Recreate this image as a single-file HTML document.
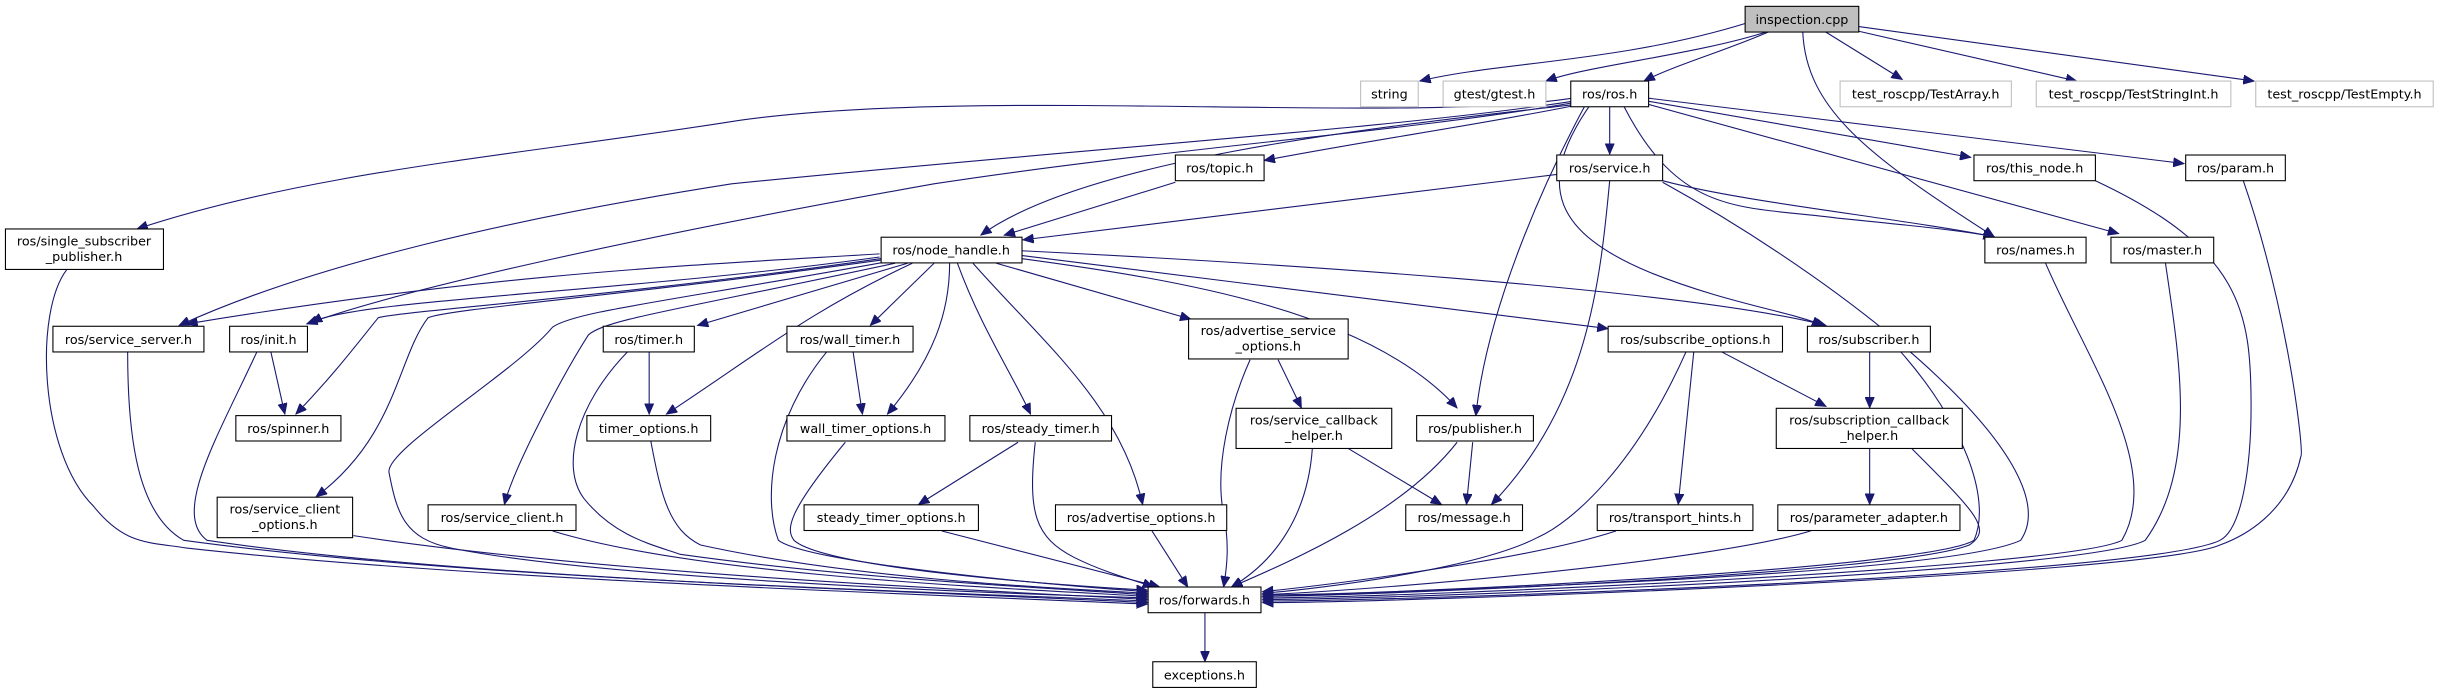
<!DOCTYPE html>
<html><head><meta charset="utf-8"><style>
html,body{margin:0;padding:0;background:#fff;}
svg{display:block;}
text{font-family:"DejaVu Sans","Liberation Sans",sans-serif;font-size:8.2px;fill:#000;text-anchor:middle;}
.e{fill:none;stroke:#191970;stroke-width:0.7;}
.n{fill:#fff;stroke:#000;stroke-width:0.7;}
.g{fill:#fff;stroke:#bfbfbf;stroke-width:0.7;}
</style></head><body>
<svg width="2441" height="693" viewBox="0 0 1568 445" xmlns="http://www.w3.org/2000/svg">
<defs><marker id="a" markerUnits="userSpaceOnUse" markerWidth="8" markerHeight="6" refX="7" refY="3" orient="auto"><path d="M0,0 L7,3 L0,6 z" fill="#191970" stroke="#191970" stroke-width="0.5"/></marker></defs>
<g marker-end="url(#a)">
<!-- inspection.cpp -->
<path class="e" d="M1121,15 C1040,40 960,40 912,52"/>
<path class="e" d="M1136,20 C1090,35 1020,42 993,52"/>
<path class="e" d="M1137,20 C1110,32 1075,42 1056,52"/>
<path class="e" d="M1158,20 C1160,70 1200,100 1281,152"/>
<path class="e" d="M1172,20 L1222,51"/>
<path class="e" d="M1194,20 L1334,52"/>
<path class="e" d="M1194,17 L1448,52"/>
<!-- ros.h -->
<path class="e" d="M1010,63 C900,80 620,55 470,78 C330,100 200,110 88,147"/>
<path class="e" d="M1010,65 C900,82 700,95 470,118 C330,140 200,170 115,209"/>
<path class="e" d="M1010,66 C900,85 750,95 600,118 C420,150 260,185 197,208"/>
<path class="e" d="M1012,67 C900,80 700,100 630,151"/>
<path class="e" d="M1010,68 C950,80 880,90 812,103"/>
<path class="e" d="M1034,68 L1034,99"/>
<path class="e" d="M1018,68 C990,120 955,200 948,267"/>
<path class="e" d="M1021,68 C985,120 1000,150 1060,175 C1110,195 1150,200 1171,209"/>
<path class="e" d="M1043,68 C1080,140 1120,132 1180,140 C1230,145 1260,148 1281,152"/>
<path class="e" d="M1059,67 L1361,150"/>
<path class="e" d="M1059,65 L1266,101"/>
<path class="e" d="M1059,63 L1403,105"/>
<!-- topic / service -->
<path class="e" d="M755,117 L645,151"/>
<path class="e" d="M1000,112 L657,154"/>
<path class="e" d="M1068,116 C1120,130 1220,140 1281,152"/>
<path class="e" d="M1034,116 C1028,180 1020,260 958,324"/>
<path class="e" d="M1068,117 C1200,190 1330,300 1298,347 C1250,370 900,380 811,383"/>
<!-- right side to forwards -->
<path class="e" d="M1346,116 C1440,160 1446,200 1446,261 C1446,300 1440,340 1426,347 C1380,370 900,386 811,386"/>
<path class="e" d="M1441,116 C1470,200 1480,290 1478,293 C1470,330 1440,345 1426,350 C1380,370 900,387 811,387"/>
<path class="e" d="M1314,169 C1340,230 1390,300 1363,347 C1330,365 900,384 811,384"/>
<path class="e" d="M1391,169 C1400,230 1412,300 1378,347 C1340,368 900,385 811,385"/>
<path class="e" d="M1221,226 C1260,270 1280,320 1268,347 C1240,365 900,382 811,382"/>
<path class="e" d="M1201,226 L1201,262"/>
<path class="e" d="M1106,226 L1173,261"/>
<path class="e" d="M1088,226 L1078,324"/>
<path class="e" d="M1083,226 C1050,300 1010,335 988,345 C950,365 850,378 811,381"/>
<path class="e" d="M1038,341 C980,360 850,376 811,380"/>
<path class="e" d="M1163,341 C1100,360 900,378 811,382"/>
<path class="e" d="M1201,288 L1201,324"/>
<path class="e" d="M1228,288 C1270,330 1280,340 1265,350 C1220,368 900,382 811,383"/>
<!-- advertise_service_options etc -->
<path class="e" d="M821,231 L836,262"/>
<path class="e" d="M803,231 C790,260 780,300 786,330 C790,350 788,365 786,377"/>
<path class="e" d="M866,288 L926,324"/>
<path class="e" d="M843,288 C840,330 820,360 791,377"/>
<path class="e" d="M946,284 L942,324"/>
<path class="e" d="M936,284 C900,330 830,360 791,377"/>
<!-- node_handle -->
<path class="e" d="M565,163 C450,170 320,175 120,208"/>
<path class="e" d="M565,165 C400,188 230,192 200,207"/>
<path class="e" d="M566,166 C400,190 255,200 243,204 C230,220 215,240 190,266"/>
<path class="e" d="M566,167 C400,190 290,198 275,204 C255,230 255,280 203,319"/>
<path class="e" d="M570,168 C420,195 370,200 355,210 C330,240 245,290 250,304 C255,330 260,346 290,352 C380,370 600,380 737,384"/>
<path class="e" d="M575,169 C430,200 390,205 378,215 C362,240 330,300 324,324"/>
<path class="e" d="M583,169 L448,209"/>
<path class="e" d="M586,169 C520,200 490,225 428,266"/>
<path class="e" d="M600,169 L559,209"/>
<path class="e" d="M610,169 C610,200 600,230 570,266"/>
<path class="e" d="M615,169 C630,210 650,240 662,266"/>
<path class="e" d="M625,169 C670,220 720,260 734,324"/>
<path class="e" d="M640,169 L765,205"/>
<path class="e" d="M656,166 C760,180 880,200 936,262"/>
<path class="e" d="M656,164 C780,180 950,200 1033,211"/>
<path class="e" d="M656,161 C800,168 1080,185 1173,209"/>
<!-- left side to forwards -->
<path class="e" d="M43,173 C22,200 25,290 60,325 C80,350 95,348 120,352 C300,372 600,382 737,388"/>
<path class="e" d="M82,226 C82,280 88,330 118,347 C300,372 600,380 737,386"/>
<path class="e" d="M174,226 L183,266"/>
<path class="e" d="M165,226 C140,280 110,330 133,347 C300,372 600,380 737,387"/>
<path class="e" d="M227,344 C400,370 650,380 737,385"/>
<path class="e" d="M355,341 C450,370 650,378 737,383"/>
<path class="e" d="M417,226 L417,266"/>
<path class="e" d="M403,226 C370,260 360,300 375,320 C395,345 420,350 437,356 C550,372 680,378 737,382"/>
<path class="e" d="M418,283 C425,320 430,340 450,350 C550,372 680,378 737,381"/>
<path class="e" d="M548,226 L554,266"/>
<path class="e" d="M531,226 C495,270 490,320 500,347 C520,362 680,376 737,380"/>
<path class="e" d="M543,284 C505,330 505,340 510,347 C530,365 680,376 737,379"/>
<path class="e" d="M654,284 L590,324"/>
<path class="e" d="M665,284 C660,330 665,345 690,358 C710,368 730,373 741,377"/>
<path class="e" d="M605,341 L745,377"/>
<path class="e" d="M740,341 L763,377"/>
<path class="e" d="M774,393 L774,425"/>
</g>
<!-- nodes -->
<rect x="1121" y="4" width="73" height="16.5" fill="#bfbfbf" stroke="#000" stroke-width="0.7"/><text x="1157.5" y="15.2">inspection.cpp</text>
<rect class="g" x="874" y="52" width="37" height="16.5"/><text x="892.5" y="63.3">string</text>
<rect class="g" x="927" y="52" width="66" height="16.5"/><text x="960" y="63.3">gtest/gtest.h</text>
<rect class="n" x="1009" y="52" width="50" height="16.5"/><text x="1034" y="63.3">ros/ros.h</text>
<rect class="g" x="1182" y="52" width="110" height="16.5"/><text x="1237" y="63.3">test_roscpp/TestArray.h</text>
<rect class="g" x="1308" y="52" width="125" height="16.5"/><text x="1370.5" y="63.3">test_roscpp/TestStringInt.h</text>
<rect class="g" x="1449" y="52" width="114" height="16.5"/><text x="1506" y="63.3">test_roscpp/TestEmpty.h</text>
<rect class="n" x="755" y="99.5" width="57" height="16.5"/><text x="783.5" y="110.8">ros/topic.h</text>
<rect class="n" x="1000" y="99.5" width="68" height="16.5"/><text x="1034" y="110.8">ros/service.h</text>
<rect class="n" x="1268" y="99.5" width="78" height="16.5"/><text x="1307" y="110.8">ros/this_node.h</text>
<rect class="n" x="1404" y="99.5" width="64" height="16.5"/><text x="1436" y="110.8">ros/param.h</text>
<rect class="n" x="3.5" y="147" width="101.5" height="26"/><text x="54" y="157.5">ros/single_subscriber</text><text x="54" y="167.5">_publisher.h</text>
<rect class="n" x="566" y="152.3" width="90.5" height="16.5"/><text x="611" y="163.5">ros/node_handle.h</text>
<rect class="n" x="1275" y="152.3" width="65" height="16.5"/><text x="1307.5" y="163.5">ros/names.h</text>
<rect class="n" x="1356" y="152.3" width="66" height="16.5"/><text x="1389" y="163.5">ros/master.h</text>
<rect class="n" x="34" y="209.5" width="97" height="16.5"/><text x="82.5" y="220.8">ros/service_server.h</text>
<rect class="n" x="147.5" y="209.5" width="50" height="16.5"/><text x="172.5" y="220.8">ros/init.h</text>
<rect class="n" x="387.5" y="209.5" width="58.5" height="16.5"/><text x="416.7" y="220.8">ros/timer.h</text>
<rect class="n" x="505.5" y="209.5" width="81" height="16.5"/><text x="546" y="220.8">ros/wall_timer.h</text>
<rect class="n" x="763.5" y="204.8" width="102.5" height="25.7"/><text x="814.7" y="215">ros/advertise_service</text><text x="814.7" y="225">_options.h</text>
<rect class="n" x="1033" y="209.5" width="112" height="16.5"/><text x="1089" y="220.8">ros/subscribe_options.h</text>
<rect class="n" x="1161" y="209.5" width="79" height="16.5"/><text x="1200.5" y="220.8">ros/subscriber.h</text>
<rect class="n" x="151.5" y="266.9" width="67.5" height="16.3"/><text x="185.2" y="278">ros/spinner.h</text>
<rect class="n" x="377" y="266.9" width="79.5" height="16.3"/><text x="416.7" y="278">timer_options.h</text>
<rect class="n" x="505.5" y="266.9" width="101.5" height="16.3"/><text x="556" y="278">wall_timer_options.h</text>
<rect class="n" x="623" y="266.9" width="91" height="16.3"/><text x="668.5" y="278">ros/steady_timer.h</text>
<rect class="n" x="794" y="262.2" width="100" height="25.8"/><text x="844" y="272.5">ros/service_callback</text><text x="844" y="282.5">_helper.h</text>
<rect class="n" x="910" y="266.9" width="75" height="16.3"/><text x="947.5" y="278">ros/publisher.h</text>
<rect class="n" x="1141" y="262.2" width="119.5" height="25.8"/><text x="1200.7" y="272.5">ros/subscription_callback</text><text x="1200.7" y="282.5">_helper.h</text>
<rect class="n" x="139.5" y="319.3" width="87" height="26"/><text x="183" y="329.7">ros/service_client</text><text x="183" y="339.7">_options.h</text>
<rect class="n" x="275" y="324.2" width="95" height="16.5"/><text x="322.5" y="335.4">ros/service_client.h</text>
<rect class="n" x="516.5" y="324.2" width="112" height="16.5"/><text x="572.5" y="335.4">steady_timer_options.h</text>
<rect class="n" x="678" y="324.2" width="110" height="16.5"/><text x="733" y="335.4">ros/advertise_options.h</text>
<rect class="n" x="903" y="324.2" width="75" height="16.5"/><text x="940.5" y="335.4">ros/message.h</text>
<rect class="n" x="1026" y="324.2" width="100" height="16.5"/><text x="1076" y="335.4">ros/transport_hints.h</text>
<rect class="n" x="1142" y="324.2" width="117" height="16.5"/><text x="1200.5" y="335.4">ros/parameter_adapter.h</text>
<rect class="n" x="737.5" y="377" width="72.5" height="16.5"/><text x="773.7" y="388.3">ros/forwards.h</text>
<rect class="n" x="740.5" y="425" width="66.5" height="16.5"/><text x="773.7" y="436.3">exceptions.h</text>
</svg>
</body></html>
